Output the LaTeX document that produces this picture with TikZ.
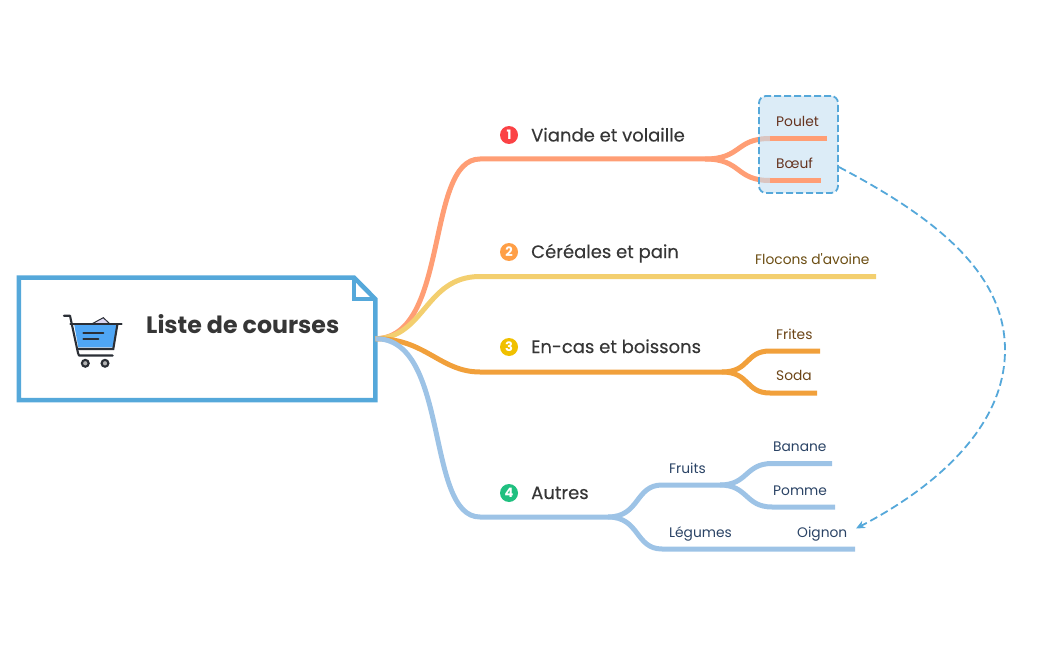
\documentclass[tikz,border=0pt]{standalone}
\usepackage{fontspec}
\setmainfont{Poppins}
\newfontfamily\topicfont[FakeBold=0.25]{Poppins}
\newfontfamily\plainfont{Poppins}
\usetikzlibrary{positioning,arrows.meta,calc}
\definecolor{inkGray}{HTML}{363636}
\definecolor{rootBlue}{HTML}{55A8DA}
\definecolor{meatLine}{HTML}{FF9E75}
\definecolor{grainLine}{HTML}{F3CF6F}
\definecolor{snackLine}{HTML}{F1A03B}
\definecolor{otherLine}{HTML}{9DC3E6}
\definecolor{meatText}{HTML}{66331F}
\definecolor{grainText}{HTML}{6B4D12}
\definecolor{snackText}{HTML}{6B4416}
\definecolor{otherText}{HTML}{2A4365}
\definecolor{groupFill}{HTML}{C4DFF2}
\definecolor{cartBlue}{HTML}{4FA6F5}
\definecolor{cartDark}{HTML}{2B2F36}
\definecolor{cartPaper}{HTML}{DCD6F2}
\definecolor{badgeRed}{HTML}{FB4245}
\definecolor{badgeOrange}{HTML}{FF9F47}
\definecolor{badgeYellow}{HTML}{F0C000}
\definecolor{badgeGreen}{HTML}{20C080}
\tikzset{
    rootbox/.style={minimum width=356.5pt,minimum height=122.5pt,inner sep=0pt},
    roottext/.style={anchor=base west,inner sep=0pt,font=\fontsize{23.7}{28}\selectfont\bfseries,text=inkGray},
    topic/.style={anchor=base west,inner sep=0pt,font=\fontsize{18}{22}\topicfont,text=inkGray},
    leaf/.style={anchor=base west,inner sep=0pt,font=\fontsize{13.8}{16}\selectfont},
    badge/.style={circle,minimum size=18pt,inner sep=0pt,text=white,font=\fontsize{13}{14}\selectfont\bfseries},
    branch/.style={line width=5pt,line cap=butt},
    grouparrow/.style={-{Stealth[length=9pt,width=8pt]},draw=rootBlue,line width=1.8pt,dash pattern=on 8pt off 4pt},
}
\begin{document}
\begin{tikzpicture}[x=1pt,y=-1pt]
    \useasboundingbox (0,0) rectangle (1050,650);
    % root
    \node[rootbox] (root) at (197,338.75) {};
    \draw[rootBlue,line width=4.5pt,fill=white] (18.75,277.5) -- (354,277.5) -- (375.25,299) -- (375.25,400) -- (18.75,400) -- cycle;
    \draw[rootBlue,line width=4.5pt] (354,277.5) -- (354,299) -- (375.25,299);
    \node[roottext] (rootlabel) at (146,333) {Liste de courses};
    % cart
    \fill[cartPaper,draw=cartDark,line width=1pt] (91.7,324) -- (103.3,317.7) -- (110,324) -- cycle;
    \fill[cartBlue] (74.3,325) -- (117.3,325) -- (113.3,347.3) -- (78.3,347.3) -- cycle;
    \draw[cartDark,line width=2.1pt,line cap=round,line join=round] (64,315.7) -- (70,315.7) -- (78,353) -- (79,355.5) -- (112.7,355.5);
    \draw[cartDark,line width=2.1pt,line cap=round] (70.5,324.3) -- (121.5,324.3);
    \draw[cartDark,line width=2.1pt,line cap=round] (117.3,325) -- (113.3,349) -- (78,349);
    \draw[cartDark,line width=2.1pt,line cap=round] (83.3,332.7) -- (103.3,332.7);
    \draw[cartDark,line width=2.1pt,line cap=round] (83.3,339.3) -- (98.3,339.3);
    \draw[cartDark,line width=2.1pt,fill=gray!60] (85.3,363.3) circle (3.4);
    \draw[cartDark,line width=2.1pt,fill=gray!60] (105,363.3) circle (3.4);
    % branch ends
    \coordinate (meat) at (480,159);
    \coordinate (meatfork) at (705,159);
    \coordinate (poulet) at (770,138.5);
    \coordinate (boeuf) at (770,180.5);
    \coordinate (pouletend) at (827,138.5);
    \coordinate (boeufend) at (821,180.5);
    \coordinate (grain) at (480,276.5);
    \coordinate (avoine) at (876,276.5);
    \coordinate (snack) at (480,372);
    \coordinate (snackfork) at (722,372);
    \coordinate (frites) at (770,351);
    \coordinate (fritesend) at (820,351);
    \coordinate (soda) at (770,393);
    \coordinate (sodaend) at (817,393);
    \coordinate (other) at (480,517);
    \coordinate (otherfork) at (608,517);
    \coordinate (fruits) at (662,485);
    \coordinate (fruitsfork) at (720,485);
    \coordinate (legumes) at (662,549);
    \coordinate (legumesend) at (855,549);
    \coordinate (banane) at (772,463.5);
    \coordinate (bananeend) at (832,463.5);
    \coordinate (pomme) at (772,507);
    \coordinate (pommeend) at (835,507);
    % branches
    \draw[branch,meatLine] (root.east) .. controls (450,338) and (425,159) .. (meat) -- (meatfork)
        .. controls (742,159) and (735,138.5) .. (poulet);
    \draw[branch,meatLine] (meatfork) .. controls (742,159) and (735,180.5) .. (boeuf);
    \draw[branch,grainLine] (root.east) .. controls (425,338) and (425,276.5) .. (grain) -- (avoine);
    \draw[branch,snackLine] (root.east) .. controls (425,338) and (440,372) .. (snack) -- (snackfork)
        .. controls (750,372) and (745,351) .. (frites) -- (fritesend);
    \draw[branch,snackLine] (snackfork) .. controls (750,372) and (745,393) .. (soda) -- (sodaend);
    \draw[branch,otherLine] (root.east) .. controls (450,338) and (425,517) .. (other) -- (otherfork)
        .. controls (640,517) and (635,485) .. (fruits) -- (fruitsfork)
        .. controls (748,485) and (745,463.5) .. (banane) -- (bananeend);
    \draw[branch,otherLine] (fruitsfork) .. controls (748,485) and (745,507) .. (pomme) -- (pommeend);
    \draw[branch,otherLine] (otherfork) .. controls (640,517) and (635,549) .. (legumes) -- (legumesend);
    % group
    \node[draw=rootBlue,fill=groupFill,fill opacity=0.6,draw opacity=1,rounded corners=7pt,line width=1.8pt,dash pattern=on 7pt off 3pt,
        minimum width=79pt,minimum height=97pt,inner sep=0pt] (group) at (798.5,144.5) {};
    \draw[branch,meatLine] (poulet) -- (pouletend);
    \draw[branch,meatLine] (boeuf) -- (boeufend);
    \coordinate (oignontip) at (856,528.5);
    \draw[grouparrow] (group.east |- 0,167) .. controls (930,215) and (1005,270) .. (1005,350)
        .. controls (1005,430) and (930,490) .. (oignontip);
    % topics
    \node[badge,fill=badgeRed] (num1) at (509,135) {1};
    \node[topic] (viande) at (531,141.5) {Viande et volaille};
    \node[badge,fill=badgeOrange] (num2) at (509,252) {2};
    \node[topic] (cereales) at (531,258) {Céréales et pain};
    \node[badge,fill=badgeYellow] (num3) at (509,347) {3};
    \node[topic] (encas) at (531,353) {En-cas et boissons};
    \node[badge,fill=badgeGreen] (num4) at (509,493) {4};
    \node[topic] (autres) at (531,499) {Autres};
    % leaves
    \node[leaf,text=meatText] (pouletlabel) at (776,127) {Poulet};
    \node[leaf,text=meatText] (boeuflabel) at (776,168.5) {Bœuf};
    \node[leaf,text=grainText] (avoinelabel) at (755,264) {Flocons d{\plainfont\symbol{39}}avoine};
    \node[leaf,text=snackText] (friteslabel) at (776,339) {Frites};
    \node[leaf,text=snackText] (sodalabel) at (776,380) {Soda};
    \node[leaf,text=otherText] (fruitslabel) at (669,473) {Fruits};
    \node[leaf,text=otherText] (legumeslabel) at (669,537) {Légumes};
    \node[leaf,text=otherText] (bananelabel) at (773,451) {Banane};
    \node[leaf,text=otherText] (pommelabel) at (773,495) {Pomme};
    \node[leaf,text=otherText] (oignonlabel) at (797,537) {Oignon};
\end{tikzpicture}
\end{document}
